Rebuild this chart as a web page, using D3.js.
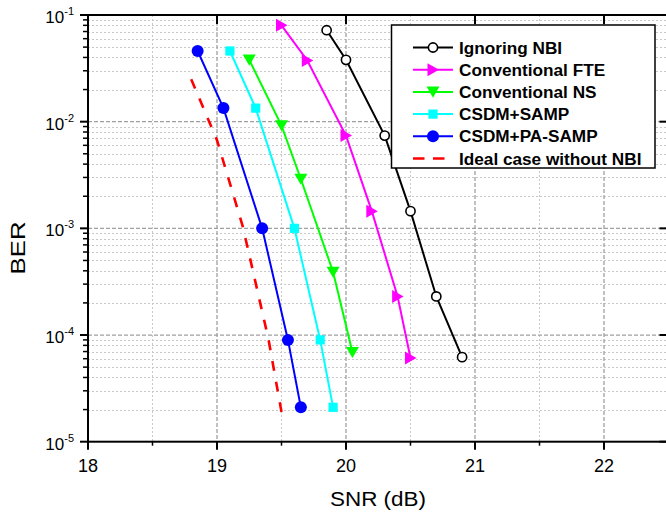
<!DOCTYPE html>
<html>
<head>
<meta charset="utf-8">
<script src="https://cdn.jsdelivr.net/npm/d3@7"></script>
<style>
  html, body { margin: 0; padding: 0; background: #fff; }
  svg { display: block; font-family: "Liberation Sans", Arial, sans-serif; }
</style>
</head>
<body>
<script>
// BER vs SNR curves (log scale)
const seriesNames = ["Ignoring NBI", "Conventional FTE", "Conventional NS", "CSDM+SAMP", "CSDM+PA-SAMP", "Ideal case without NBI"];

const snrIgnoring = [19.85, 20.0, 20.3, 20.5, 20.7, 20.9];
const berIgnoring = [0.072, 0.038, 0.0074, 0.00145, 2.3e-4, 6.2e-5];

const snrFTE = [19.5, 19.7, 20.0, 20.2, 20.4, 20.5];
const berFTE = [0.08, 0.0375, 0.0074, 0.00145, 2.3e-4, 6.1e-5];

const snrNS = [19.25, 19.5, 19.65, 19.9, 20.05];
const berNS = [0.038, 0.0092, 0.0029, 3.9e-4, 6.9e-5];

const snrSAMP = [19.1, 19.3, 19.6, 19.8, 19.9];
const berSAMP = [0.046, 0.0134, 1.0e-3, 9.0e-5, 2.1e-5];

const snrPASAMP = [18.85, 19.05, 19.35, 19.55, 19.65];
const berPASAMP = [0.046, 0.0134, 1.0e-3, 9.0e-5, 2.1e-5];

const snrIdeal = [18.8, 19.0, 19.2, 19.4, 19.5];
const berIdeal = [0.025, 0.0067, 1.04e-3, 9.0e-5, 1.9e-5];

const xTicks = [18, 19, 20, 21, 22];
const yTickExps = [-1, -2, -3, -4, -5];

const width = 666, height = 514;
const margin = {top: 15, left: 88};
const plotRight = 668.5, plotBottom = 441.7;

const svg = d3.select("body").append("svg")
  .attr("width", width).attr("height", height);

const x = d3.scaleLinear().domain([18, 22.5]).range([margin.left, plotRight]);
const y = d3.scaleLog().domain([1e-5, 1e-1]).range([plotBottom, margin.top]);

// grid
const grid = svg.append("g");
const minorX = [18.5, 19.5, 20.5, 21.5];
const minorY = [];
for (let e = -5; e < -1; e++) for (let m = 2; m <= 9; m++) minorY.push(m * Math.pow(10, e));

grid.selectAll(".mx").data(minorX).join("line")
  .attr("x1", d => x(d)).attr("x2", d => x(d))
  .attr("y1", margin.top).attr("y2", plotBottom)
  .attr("stroke", "#c8c8c8").attr("stroke-width", 1).attr("stroke-dasharray", "2,2");
grid.selectAll(".my").data(minorY).join("line")
  .attr("x1", margin.left).attr("x2", plotRight)
  .attr("y1", d => Math.round(y(d)) + 0.5).attr("y2", d => Math.round(y(d)) + 0.5)
  .attr("stroke", "#c8c8c8").attr("stroke-width", 1).attr("stroke-dasharray", "2,2");
grid.selectAll(".Mx").data([19, 20, 21, 22]).join("line")
  .attr("x1", d => x(d)).attr("x2", d => x(d))
  .attr("y1", margin.top).attr("y2", plotBottom)
  .attr("stroke", "#a0a0a0").attr("stroke-width", 1.3).attr("stroke-dasharray", "4,2");
grid.selectAll(".My").data([1e-2, 1e-3, 1e-4]).join("line")
  .attr("x1", margin.left).attr("x2", plotRight)
  .attr("y1", d => y(d)).attr("y2", d => y(d))
  .attr("stroke", "#a0a0a0").attr("stroke-width", 1.3).attr("stroke-dasharray", "4,2");

// series
const zip = (xs, ys) => xs.map((v, i) => ({snr: v, ber: ys[i]}));
const series = [
  {name: seriesNames[0], color: "#000000", marker: "circleOpen", data: zip(snrIgnoring, berIgnoring)},
  {name: seriesNames[1], color: "#ff00ff", marker: "triRight", data: zip(snrFTE, berFTE)},
  {name: seriesNames[2], color: "#00ff00", marker: "triDown", data: zip(snrNS, berNS)},
  {name: seriesNames[3], color: "#00ffff", marker: "square", data: zip(snrSAMP, berSAMP)},
  {name: seriesNames[4], color: "#0000ff", marker: "circle", data: zip(snrPASAMP, berPASAMP)},
  {name: seriesNames[5], color: "#ff0000", marker: null, dashed: true, data: zip(snrIdeal, berIdeal)}
];

const line = d3.line().x(d => x(d.snr)).y(d => y(d.ber));

function drawMarker(sel, type, color) {
  if (type === "circleOpen") {
    sel.append("circle").attr("r", 4.6).attr("fill", "#fff").attr("stroke", color).attr("stroke-width", 1.6);
  } else if (type === "circle") {
    sel.append("circle").attr("r", 6).attr("fill", color);
  } else if (type === "square") {
    sel.append("rect").attr("x", -4.6).attr("y", -4.6).attr("width", 9.2).attr("height", 9.2).attr("fill", color);
  } else if (type === "triRight") {
    sel.append("path").attr("d", "M-5.5,-6.5L6,0L-5.5,6.5Z").attr("fill", color);
  } else if (type === "triDown") {
    sel.append("path").attr("d", "M-6.5,-5.3L6.5,-5.3L0,5.8Z").attr("fill", color);
  }
}

series.forEach(s => {
  svg.append("path")
    .attr("fill", "none")
    .attr("stroke", s.color)
    .attr("stroke-width", s.dashed ? 2.6 : 2)
    .attr("stroke-dasharray", s.dashed ? "10,11" : null)
    .attr("d", line(s.data));
});
series.forEach(s => {
  if (!s.marker) return;
  svg.selectAll(null).data(s.data).join("g")
    .attr("transform", d => `translate(${x(d.snr)},${y(d.ber)})`)
    .each(function() { drawMarker(d3.select(this), s.marker, s.color); });
});

// axes frame
const axisG = svg.append("g").attr("stroke", "#000").attr("stroke-width", 2);
axisG.append("rect")
  .attr("x", margin.left).attr("y", margin.top)
  .attr("width", plotRight - margin.left).attr("height", plotBottom - margin.top)
  .attr("fill", "none");

// bottom ticks (out), top ticks (in)
axisG.selectAll(".bt").data(xTicks).join("line")
  .attr("x1", d => x(d)).attr("x2", d => x(d))
  .attr("y1", plotBottom).attr("y2", plotBottom + 8);
axisG.selectAll(".bmt").data(minorX).join("line")
  .attr("x1", d => x(d)).attr("x2", d => x(d))
  .attr("y1", plotBottom).attr("y2", plotBottom + 4).attr("stroke-width", 1.5);
axisG.selectAll(".tt").data(xTicks).join("line")
  .attr("x1", d => x(d)).attr("x2", d => x(d))
  .attr("y1", margin.top).attr("y2", margin.top + 9);

// left ticks (out), right ticks (in)
axisG.selectAll(".lt").data(yTickExps).join("line")
  .attr("x1", margin.left - 8).attr("x2", margin.left)
  .attr("y1", d => y(Math.pow(10, d))).attr("y2", d => y(Math.pow(10, d)));
axisG.selectAll(".lmt").data(minorY).join("line")
  .attr("x1", margin.left - 5).attr("x2", margin.left + 1)
  .attr("y1", d => y(d)).attr("y2", d => y(d)).attr("stroke-width", 1.5);
axisG.selectAll(".rt").data(yTickExps).join("line")
  .attr("x1", plotRight - 9).attr("x2", plotRight)
  .attr("y1", d => y(Math.pow(10, d))).attr("y2", d => y(Math.pow(10, d)));

// tick labels
svg.selectAll(".xl").data(xTicks).join("text")
  .attr("x", d => x(d)).attr("y", plotBottom + 30)
  .attr("text-anchor", "middle")
  .style("font-size", "18px")
  .text(d => d);

const yl = svg.selectAll(".yl").data(yTickExps).join("text")
  .attr("x", 74).attr("y", d => y(Math.pow(10, d)) + 8)
  .attr("text-anchor", "end")
  .style("font-size", "17px");
yl.append("tspan").text("10");
yl.append("tspan").attr("dy", -8).style("font-size", "11px").text(d => d);

// axis titles
svg.append("text")
  .attr("transform", "translate(25,248) rotate(-90)")
  .attr("text-anchor", "middle")
  .attr("textLength", 53).attr("lengthAdjust", "spacingAndGlyphs")
  .style("font-size", "21px")
  .text("BER");
svg.append("text")
  .attr("x", 378).attr("y", 506)
  .attr("text-anchor", "middle")
  .attr("textLength", 96).attr("lengthAdjust", "spacingAndGlyphs")
  .style("font-size", "20px")
  .text("SNR (dB)");

// legend
const lg = svg.append("g");
lg.append("rect")
  .attr("x", 391.5).attr("y", 25).attr("width", 263.5).attr("height", 143)
  .attr("fill", "#fff").attr("stroke", "#000").attr("stroke-width", 1.5);

const item = lg.selectAll(".li").data(series).join("g")
  .attr("transform", (d, i) => `translate(0,${47.5 + i * 22.2})`);
item.append("line")
  .attr("x1", 413).attr("x2", 453)
  .attr("stroke", d => d.color)
  .attr("stroke-width", d => d.dashed ? 2.6 : 2)
  .attr("stroke-dasharray", d => d.dashed ? "11.5,8.5" : null);
item.each(function(d) {
  if (!d.marker) return;
  const m = d3.select(this).append("g").attr("transform", "translate(433,0)");
  drawMarker(m, d.marker, d.color);
});
item.append("text")
  .attr("x", 459).attr("y", 6)
  .style("font-size", "17.2px")
  .style("font-weight", "bold")
  .text(d => d.name);
</script>
</body>
</html>
